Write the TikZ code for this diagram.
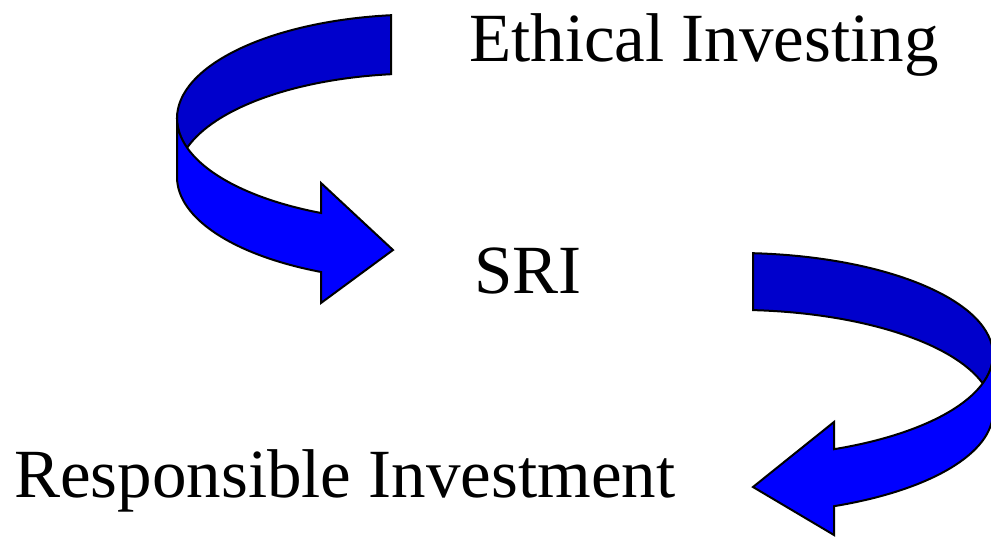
\documentclass[tikz,border=0pt]{standalone}
\usepackage{fontspec}
\setmainfont{Liberation Serif}
\definecolor{ribbondark}{RGB}{0,0,204}
\definecolor{ribbonlight}{RGB}{0,0,255}
\begin{document}
\begin{tikzpicture}[x=1pt,y=1pt,
  ribbon/.style={draw=black,line width=2pt,line join=miter},
  back/.style={ribbon,fill=ribbondark},
  front/.style={ribbon,fill=ribbonlight},
  label/.style={inner sep=0pt,anchor=base west,font=\fontsize{69}{80}\selectfont}]
\useasboundingbox (0,0) rectangle (991,-537);
\clip (0,0) rectangle (991,-537);
% first curved arrow (center 420,-118; rx 243, ry 104; height 59)
\path[back] (391,-15.2) arc[start angle=96.85,end angle=180,x radius=243pt,y radius=104pt]
  arc[start angle=180,end angle=196.48,x radius=243pt,y radius=104pt]
  arc[start angle=163.52,end angle=96.85,x radius=243pt,y radius=104pt] -- cycle;
\path[front] (177,-118) -- (177,-177)
  arc[start angle=180,end angle=245.96,x radius=243pt,y radius=104pt]
  -- (321,-303) -- (393,-250) -- (321,-183) -- (321,-213)
  arc[start angle=245.96,end angle=180,x radius=243pt,y radius=104pt] -- cycle;
% second curved arrow (center 735,-355; rx 258, ry 102; height 57)
\path[back] (753,-253.2) arc[start angle=86,end angle=0,x radius=258pt,y radius=102pt]
  arc[start angle=0,end angle=-16.2,x radius=258pt,y radius=102pt]
  arc[start angle=16.2,end angle=86,x radius=258pt,y radius=102pt] -- cycle;
\path[front] (993,-355) -- (993,-412)
  arc[start angle=0,end angle=-67.4,x radius=258pt,y radius=102pt]
  -- (834,-535) -- (753,-487) -- (834,-422) -- (834,-449.2)
  arc[start angle=-67.4,end angle=0,x radius=258pt,y radius=102pt] -- cycle;
% labels
\node[label] (ethical) at (469,-62) {Ethical Investing};
\node[label] (sri) at (474,-294) {SRI};
\node[label] (resp) at (14,-497) {Responsible Investment};
\end{tikzpicture}
\end{document}
